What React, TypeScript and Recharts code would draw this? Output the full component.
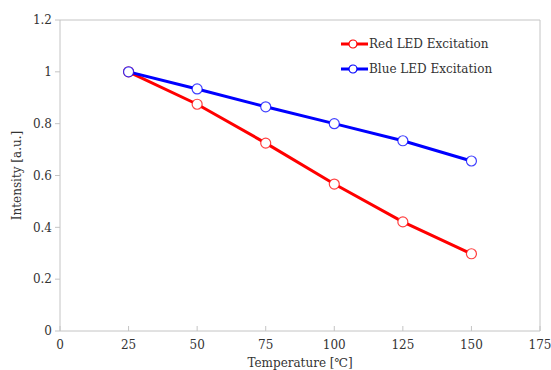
import React from 'react';
import { LineChart, Line, XAxis, YAxis, Legend, ReferenceLine } from 'recharts';

const temps = [25, 50, 75, 100, 125, 150];
const redLed = [1, 0.875, 0.725, 0.567, 0.421, 0.298];
const blueLed = [1, 0.934, 0.865, 0.8, 0.734, 0.656];
const xTicks = [0, 25, 50, 75, 100, 125, 150, 175];
const yTicks = [0, 0.2, 0.4, 0.6, 0.8, 1, 1.2];

const data = temps.map((t, i) => ({ t, red: redLed[i], blue: blueLed[i] }));

const FONT = '"DejaVu Serif", "Liberation Serif", serif';
const AXIS = '#c4c4c4';
const TEXT = '#333';

const series = [
  { key: 'red', name: 'Red LED Excitation', color: '#ff0000' },
  { key: 'blue', name: 'Blue LED Excitation', color: '#0000ff' },
];

function LegendBox() {
  return (
    <svg width={170} height={44} style={{ display: 'block' }}>
      {series.map((s, i) => (
        <g key={s.key} transform={`translate(0, ${10 + i * 25})`}>
          <line x1={3} x2={30} y1={0} y2={0} stroke={s.color} strokeWidth={3} />
          <circle cx={15} cy={0} r={4} fill="#fff" stroke={s.color} strokeWidth={1.2} />
          <text x={31} y={0} dy="0.35em" fontFamily={FONT} fontSize={12} fill={TEXT}>{s.name}</text>
        </g>
      ))}
    </svg>
  );
}

export default function App() {
  return (
    <div style={{ position: 'absolute', left: 0, top: 0, width: 551, height: 370, background: '#fff' }}>
      <LineChart width={551} height={370} data={data} margin={{ top: 20, right: 11, left: 0, bottom: 0 }}>
        <XAxis
          dataKey="t"
          type="number"
          domain={[0, 175]}
          ticks={xTicks}
          height={39}
          stroke={AXIS}
          tickSize={-5}
          tickMargin={14}
          tick={{ fill: TEXT, fontFamily: FONT, fontSize: 12 }}
          label={{ value: 'Temperature [℃]', position: 'insideBottom', offset: 3, fill: TEXT, fontFamily: FONT, fontSize: 12 }}
        />
        <YAxis
          type="number"
          domain={[0, 1.2]}
          ticks={yTicks}
          width={60}
          stroke={AXIS}
          tickSize={5}
          tickMargin={3}
          tick={{ fill: TEXT, fontFamily: FONT, fontSize: 12 }}
          label={{
            content: (p: any) => {
              const vb = p.viewBox;
              const cy = vb.y + vb.height / 2;
              return (
                <text x={17} y={cy} transform={`rotate(-90, 17, ${cy})`} textAnchor="middle" dominantBaseline="central" fontFamily={FONT} fontSize={12} fill={TEXT}>
                  Intensity [a.u.]
                </text>
              );
            },
          }}
        />
        <ReferenceLine y={1.2} stroke={AXIS} strokeWidth={1} />
        <ReferenceLine x={175} stroke={AXIS} strokeWidth={1} />
        <Legend
          layout="horizontal"
          verticalAlign="middle"
          align="center"
          content={() => <LegendBox />}
          wrapperStyle={{ top: 34, left: 338, width: 170, height: 44 }}
        />
        {series.map((s) => (
          <Line
            key={s.key}
            dataKey={s.key}
            name={s.name}
            stroke={s.color}
            strokeWidth={3}
            dot={{ r: 5, fill: '#fff', stroke: s.color, strokeWidth: 1.2, strokeOpacity: 0.75 }}
            activeDot={false}
            isAnimationActive={false}
          />
        ))}
      </LineChart>
    </div>
  );
}
